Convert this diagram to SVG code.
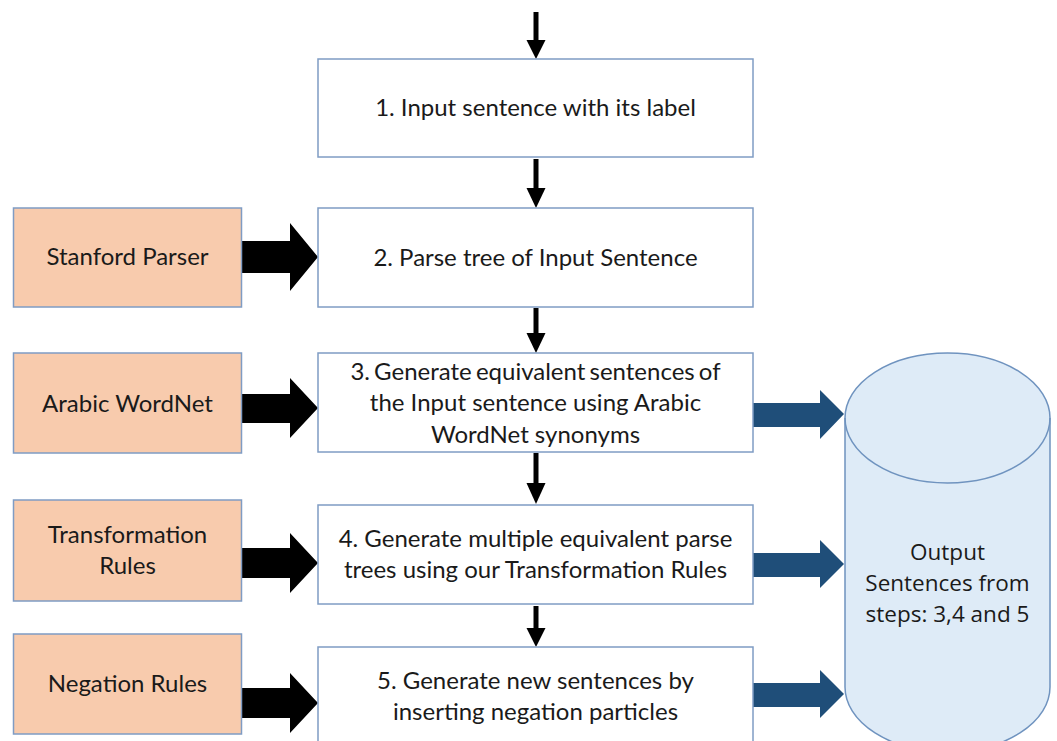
<svg xmlns="http://www.w3.org/2000/svg" width="1057" height="741" viewBox="0 0 1057 741">
<style>
.step{fill:#ffffff;stroke:#7f9cc4;stroke-width:1.5}
.src{fill:#f8cbad;stroke:#7f9cc4;stroke-width:1.5}
.t{font-family:Lato,"Liberation Sans",sans-serif;font-size:24px;fill:#1a1a1a;text-anchor:middle}
.ct{font-family:"Open Sans","Liberation Sans",sans-serif;font-size:22.5px;fill:#1a1a1a;text-anchor:middle}
.blk{fill:#000000}
.blu{fill:#1f4e79}
.vs{stroke:#000;stroke-width:5}
</style>
<rect width="1057" height="741" fill="#ffffff"/>
<g id="connectors">
  <line class="vs" x1="536" y1="12" x2="536" y2="42"/>
  <polygon class="blk" points="526.5,40 545.5,40 536,59"/>
  <line class="vs" x1="536" y1="159" x2="536" y2="190"/>
  <polygon class="blk" points="526.5,188 545.5,188 536,208"/>
  <line class="vs" x1="536" y1="308" x2="536" y2="335"/>
  <polygon class="blk" points="526.5,333 545.5,333 536,353"/>
  <line class="vs" x1="536" y1="453" x2="536" y2="485"/>
  <polygon class="blk" points="526.5,483 545.5,483 536,504"/>
  <line class="vs" x1="536" y1="606" x2="536" y2="630"/>
  <polygon class="blk" points="526.5,628 545.5,628 536,647"/>
  <polygon class="blk" points="241,241 290,241 290,223 318,257 290,291 290,273 241,273"/>
  <polygon class="blk" points="241,394 290,394 290,378 318,408 290,438 290,423 241,423"/>
  <polygon class="blk" points="241,548 290,548 290,533 318,563 290,593 290,578 241,578"/>
  <polygon class="blk" points="241,688 290,688 290,673 318,703 290,733 290,718 241,718"/>
  <polygon class="blu" points="753,403 820,403 820,390 844,414 820,439 820,427 753,427"/>
  <polygon class="blu" points="753,553 820,553 820,540 844,564 820,588 820,577 753,577"/>
  <polygon class="blu" points="753,683 820,683 820,670 844,694 820,718 820,707 753,707"/>
</g>
<g id="step1"><rect class="step" x="318" y="59" width="435" height="98"/><text class="t" x="535.5" y="116">1. Input sentence with its label</text></g>
<g id="step2"><rect class="step" x="318" y="208" width="435" height="99"/><text class="t" x="535.5" y="266">2. Parse tree of Input Sentence</text></g>
<g id="step3"><rect class="step" x="318" y="353" width="435" height="99"/>
  <text class="t" x="535.5" y="380" word-spacing="-2">3. Generate equivalent sentences of</text>
  <text class="t" x="535.5" y="411">the Input sentence using Arabic</text>
  <text class="t" x="535.5" y="443">WordNet synonyms</text></g>
<g id="step4"><rect class="step" x="318" y="505" width="435" height="99"/>
  <text class="t" x="535.5" y="547">4. Generate multiple equivalent parse</text>
  <text class="t" x="535.5" y="578">trees using our Transformation Rules</text></g>
<g id="step5"><rect class="step" x="318" y="647" width="435" height="100"/>
  <text class="t" x="535.5" y="689">5. Generate new sentences by</text>
  <text class="t" x="535.5" y="720">inserting negation particles</text></g>
<g id="stanford"><rect class="src" x="13.5" y="208" width="228" height="99"/><text class="t" x="127.5" y="265">Stanford Parser</text></g>
<g id="arabicwordnet"><rect class="src" x="13.5" y="353" width="228" height="100"/><text class="t" x="127.5" y="412">Arabic WordNet</text></g>
<g id="transformation"><rect class="src" x="13.5" y="500" width="228" height="101"/>
  <text class="t" x="127.5" y="543">Transformation</text>
  <text class="t" x="127.5" y="574">Rules</text></g>
<g id="negation"><rect class="src" x="13.5" y="634" width="228" height="100"/><text class="t" x="127.5" y="692">Negation Rules</text></g>
<g id="output">
  <path d="M845,418 L845,687 A102.5,65 0 0 0 1050,687 L1050,418 A102.5,65 0 0 0 845,418 Z" fill="#deebf7" stroke="#6f93bf" stroke-width="1.5"/>
  <path d="M845,418 A102.5,65 0 0 0 1050,418" fill="none" stroke="#6f93bf" stroke-width="1.5"/>
  <text class="ct" x="947.5" y="560">Output</text>
  <text class="ct" x="947.5" y="591">Sentences from</text>
  <text class="ct" x="947.5" y="622">steps: 3,4 and 5</text>
</g>
</svg>
